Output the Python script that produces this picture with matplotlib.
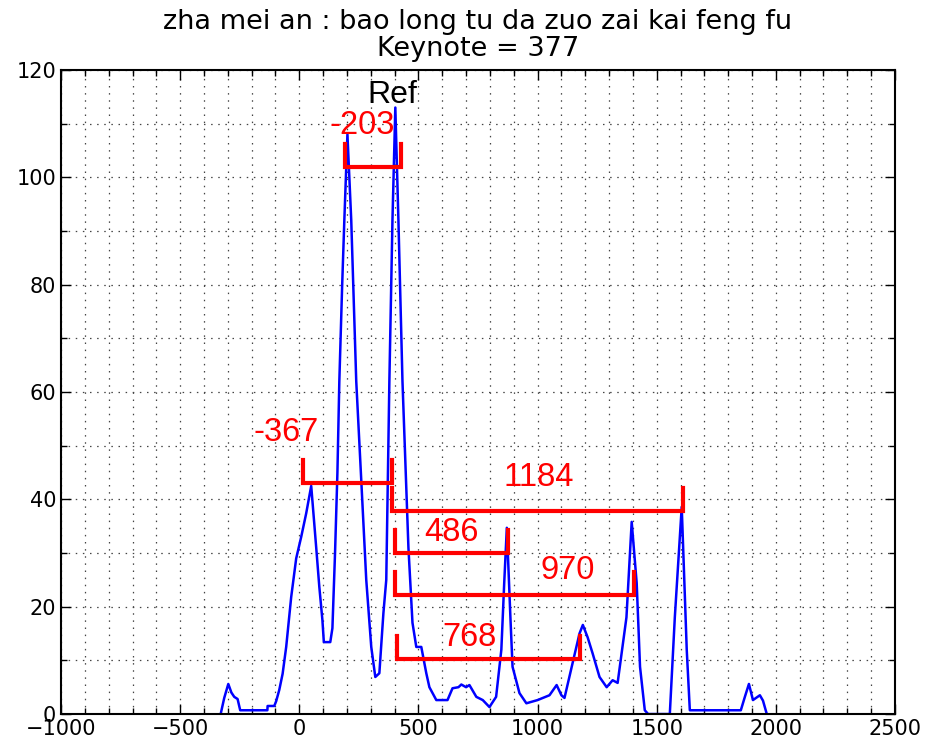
import matplotlib
matplotlib.use("Agg")
import matplotlib.pyplot as plt
from matplotlib.ticker import MultipleLocator

# courbe
cents = [-330, -315, -298, -285, -273, -259, -248, -134, -133, -105, -97, -84, -70, -55,
         -34, -13, 8, 29, 50, 71, 84, 97, 103, 130, 139, 150, 160, 168, 180, 189,
         202, 218, 239, 260, 281, 302, 319, 336, 353, 365, 378, 391, 403, 416,
         433, 458, 475, 491, 512, 533, 546, 575, 622, 643, 668, 680, 700, 714,
         743, 770, 798, 826, 848, 860, 871, 886, 895, 924, 953, 1000, 1050, 1080,
         1100, 1113, 1147, 1176, 1190, 1210, 1231, 1260, 1290, 1315, 1336, 1373,
         1395, 1416, 1430, 1450, 1464, 1555, 1576, 1605, 1626, 1639, 1853, 1870,
         1887, 1904, 1933, 1946, 1962]
amp = [0, 3, 5.6, 4.0, 3.2, 2.8, 0.7, 0.7, 1.5, 1.5, 2.4, 4.5, 7.5, 12.5,
       21.8, 29, 33, 37.4, 42.5, 31, 23.7, 17.5, 13.4, 13.4, 16, 30, 45, 62, 80, 92,
       108, 92, 62, 43.6, 25, 12.5, 6.9, 7.6, 18.8, 25, 62, 92, 113, 92,
       62, 31, 17, 12.5, 12.5, 7.6, 5, 2.6, 2.6, 4.8, 5, 5.5, 5, 5.4,
       3.2, 2.6, 1.3, 3.2, 12, 24.4, 34.7, 18, 8.8, 3.9, 2.0, 2.6, 3.5, 5.4,
       3.5, 3.0, 9.5, 15, 16.6, 14.3, 11.3, 6.9, 5, 6.3, 5.8, 18,
       35.8, 24.4, 8.8, 0.7, 0, 0, 18, 38.6, 12, 0.7, 0.7, 3.2,
       5.6, 2.6, 3.5, 2.5, 0]

# intervalles marques en rouge : gauche, droite, hauteur, texte
int_g = [193, 17, 391, 403, 403, 412]
int_d = [428, 391, 1609, 874, 1403, 1176]
int_y = [101.9, 43.0, 37.8, 30.0, 22.2, 10.2]
int_lab = ["-203", "-367", "1184", "486", "970", "768"]
lab_x = [265, -55, 1004, 640, 1127, 714]
lab_y = [109.7, 52.4, 44.0, 33.9, 26.8, 14.2]
haut_trait = 4.3

fig = plt.figure(figsize=(9.26, 7.42), dpi=100)
ax = fig.add_axes([0.0659, 0.0377, 0.9006, 0.868])

ax.plot(cents, amp, color="b", linewidth=1.8)

for i in range(len(int_lab)):
    g, d, y = int_g[i], int_d[i], int_y[i]
    ax.plot([g, g, d, d], [y + haut_trait, y, y, y + haut_trait],
            color="red", linewidth=3, solid_joinstyle="miter")
    ax.text(lab_x[i], lab_y[i], int_lab[i], color="red", fontsize=23.5,
            family="Liberation Sans", ha="center", va="center")

ax.text(392, 115.3, "Ref", color="black", fontsize=23,
        family="Liberation Sans", ha="center", va="center")

ax.set_xlim(-1000, 2500)
ax.set_ylim(0, 120)
ax.xaxis.set_major_locator(MultipleLocator(500))
ax.xaxis.set_minor_locator(MultipleLocator(100))
ax.yaxis.set_major_locator(MultipleLocator(20))
ax.yaxis.set_minor_locator(MultipleLocator(10))
ax.grid(True, which="both", color="#444444", linestyle=(0, (1.2, 4.5)), linewidth=0.9)
ax.tick_params(which="both", direction="in", top=True, right=True, labelsize=15)
ax.tick_params(which="major", length=7, width=1)
ax.tick_params(which="minor", length=4, width=1)
for s in ax.spines.values():
    s.set_linewidth(1.5)

ax.set_title("zha mei an : bao long tu da zuo zai kai feng fu\nKeynote = 377",
             fontsize=19.5, pad=10, linespacing=1.05)

plt.savefig("out.png")
